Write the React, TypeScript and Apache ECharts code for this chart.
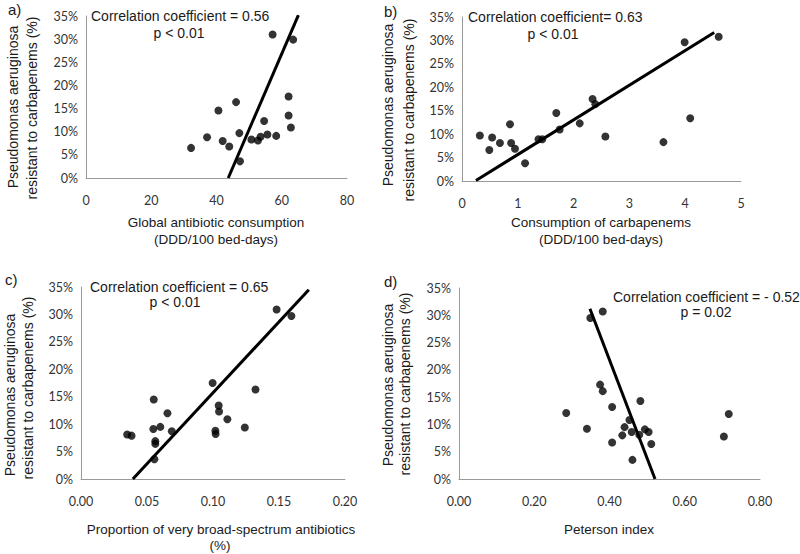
import React, { useEffect, useRef } from "react";
import * as echarts from "echarts";

// Panel a: Global antibiotic consumption vs resistance (%)
const aX = [32.2, 37.1, 40.6, 41.9, 43.9, 46.0, 47.0, 47.2, 50.7, 52.7, 53.5, 54.6, 55.6, 58.3, 57.2, 62.1, 62.1, 62.8, 63.5];
const aY = [6.5, 8.8, 14.6, 8.0, 6.8, 16.4, 9.7, 3.6, 8.3, 8.1, 8.9, 12.3, 9.4, 9.1, 31.0, 17.6, 13.5, 10.9, 29.9];
const aTrendX = [43.6, 65.1];
const aTrendY = [0, 35.2];

// Panel b: Consumption of carbapenems
const bX = [0.32, 0.49, 0.54, 0.68, 0.86, 0.88, 0.95, 1.13, 1.37, 1.44, 1.69, 1.75, 2.11, 2.34, 2.39, 2.57, 3.61, 3.99, 4.09, 4.6];
const bY = [9.7, 6.6, 9.3, 8.1, 12.1, 8.1, 6.9, 3.8, 8.9, 8.9, 14.5, 11.0, 12.3, 17.5, 16.4, 9.5, 8.3, 29.6, 13.4, 30.8];
const bTrendX = [0.25, 4.52];
const bTrendY = [0.1, 31.7];

// Panel c: Proportion of very broad-spectrum antibiotics
const cX = [0.035, 0.0383, 0.0551, 0.0548, 0.0563, 0.0563, 0.0556, 0.0601, 0.0655, 0.0688, 0.0997, 0.1018, 0.102, 0.1043, 0.1046, 0.1109, 0.1241, 0.1322, 0.1482, 0.1594];
const cY = [8.1, 7.9, 14.5, 9.1, 6.9, 6.4, 3.6, 9.5, 12.0, 8.7, 17.5, 8.8, 8.2, 13.4, 12.3, 10.9, 9.4, 16.3, 30.9, 29.7];
const cTrendX = [0.0393, 0.1726];
const cTrendY = [0, 34.5];

// Panel d: Peterson index
const dX = [0.285, 0.34, 0.349, 0.382, 0.375, 0.382, 0.407, 0.407, 0.434, 0.44, 0.453, 0.459, 0.461, 0.479, 0.482, 0.494, 0.504, 0.511, 0.704, 0.717];
const dY = [12.1, 9.2, 29.5, 30.7, 17.3, 16.1, 13.2, 6.7, 8.0, 9.5, 10.8, 8.6, 3.5, 8.1, 14.3, 9.1, 8.6, 6.4, 7.8, 11.9];
const dTrendX = [0.348, 0.521];
const dTrendY = [31.2, 0];

const yTicksMax = 35;
const yInterval = 5;

const xAxisRanges = [
  { max: 80, interval: 20, digits: 0 },
  { max: 5, interval: 1, digits: 0 },
  { max: 0.2, interval: 0.05, digits: 2 },
  { max: 0.8, interval: 0.2, digits: 2 },
];

const yTitle1 = "Pseudomonas aeruginosa";
const yTitle2 = "resistant to carbapenems (%)";

const zip = (xs: number[], ys: number[]) => xs.map((x, i) => [x, ys[i]]);

export default function App() {
  const ref = useRef<HTMLDivElement>(null);
  useEffect(() => {
    if (!ref.current) return;
    const chart = echarts.init(ref.current, null, { renderer: "svg" });
    const grids = [
      { left: 86, top: 16, width: 261, height: 162 },
      { left: 462, top: 17, width: 279, height: 164 },
      { left: 81, top: 287, width: 264, height: 192 },
      { left: 459, top: 288, width: 301, height: 191 },
    ];
    const tickFont = { fontFamily: "Lato", fontSize: 12.5, color: "#333333" };
    const xAxis = xAxisRanges.map((r, i) => ({
      type: "value",
      gridIndex: i,
      min: 0,
      max: r.max,
      interval: r.interval,
      splitLine: { show: false },
      axisTick: { show: false },
      axisLine: { show: true, lineStyle: { color: "#9a9a9a", width: 1 } },
      axisLabel: {
        ...tickFont,
        margin: 16,
        formatter: (v: number) => v.toFixed(r.digits),
      },
    }));
    const yAxis = [0, 1, 2, 3].map((i) => ({
      type: "value",
      gridIndex: i,
      min: 0,
      max: yTicksMax,
      interval: yInterval,
      splitLine: { show: false },
      axisTick: { show: false },
      axisLine: { show: true, lineStyle: { color: "#9a9a9a", width: 1 } },
      axisLabel: { ...tickFont, margin: 8, formatter: (v: number) => `${v}%` },
    }));
    const pts = [zip(aX, aY), zip(bX, bY), zip(cX, cY), zip(dX, dY)];
    const trends = [zip(aTrendX, aTrendY), zip(bTrendX, bTrendY), zip(cTrendX, cTrendY), zip(dTrendX, dTrendY)];
    const series: any[] = [];
    pts.forEach((p, i) => {
      series.push({
        type: "scatter",
        xAxisIndex: i,
        yAxisIndex: i,
        data: p,
        symbolSize: 8,
        itemStyle: { color: "#000" },
        z: 3,
      });
      series.push({
        type: "line",
        xAxisIndex: i,
        yAxisIndex: i,
        data: trends[i],
        symbol: "none",
        lineStyle: { color: "#000", width: 3 },
        z: 2,
      });
    });
    const txtFont = { fontFamily: "Liberation Sans, Arial, sans-serif", fontSize: 14, fill: "#1a1a1a" };
    const t = (text: string, x: number, y: number, align = "left", size = 14, rotation = 0) => ({
      type: "text",
      x,
      y,
      rotation,
      style: { ...txtFont, fontSize: size, text, textAlign: align, textVerticalAlign: "middle" },
    });
    const graphic = [
      t("a)", 8, 9, "left", 15),
      t("b)", 384, 11, "left", 15),
      t("c)", 5, 279, "left", 15),
      t("d)", 384, 281, "left", 15),
      t(yTitle1, 13, 107, "center", 14, Math.PI / 2),
      t(yTitle2, 32, 108, "center", 14, Math.PI / 2),
      t(yTitle1, 388, 105, "center", 14, Math.PI / 2),
      t(yTitle2, 409, 110, "center", 14, Math.PI / 2),
      t(yTitle1, 10, 395, "center", 14, Math.PI / 2),
      t(yTitle2, 28, 388, "center", 14, Math.PI / 2),
      t(yTitle1, 388, 385, "center", 14, Math.PI / 2),
      t(yTitle2, 405, 384, "center", 14, Math.PI / 2),
      t("Global antibiotic consumption", 216, 222, "center", 13.5),
      t("(DDD/100 bed-days)", 216, 239, "center", 13.5),
      t("Consumption of carbapenems", 601, 222, "center", 13.5),
      t("(DDD/100 bed-days)", 601, 239, "center", 13.5),
      t("Proportion of very broad-spectrum antibiotics", 221, 529, "center", 13.5),
      t("(%)", 220, 545, "center", 13.5),
      t("Peterson index", 609, 529, "center", 13.5),
      t("Correlation coefficient = 0.56", 91, 16),
      t("p < 0.01", 179, 33, "center"),
      t("Correlation coefficient= 0.63", 468, 17),
      t("p < 0.01", 553, 34, "center"),
      t("Correlation coefficient = 0.65", 90, 287),
      t("p < 0.01", 175, 302, "center"),
      t("Correlation coefficient = - 0.52", 613, 297),
      t("p = 0.02", 706, 312, "center"),
    ];
    chart.setOption({
      animation: false,
      backgroundColor: "#fff",
      grid: grids,
      xAxis,
      yAxis,
      series,
      graphic,
    });
    return () => chart.dispose();
  }, []);
  return <div ref={ref} style={{ width: 800, height: 554, position: "absolute", left: 0, top: 0 }} />;
}
